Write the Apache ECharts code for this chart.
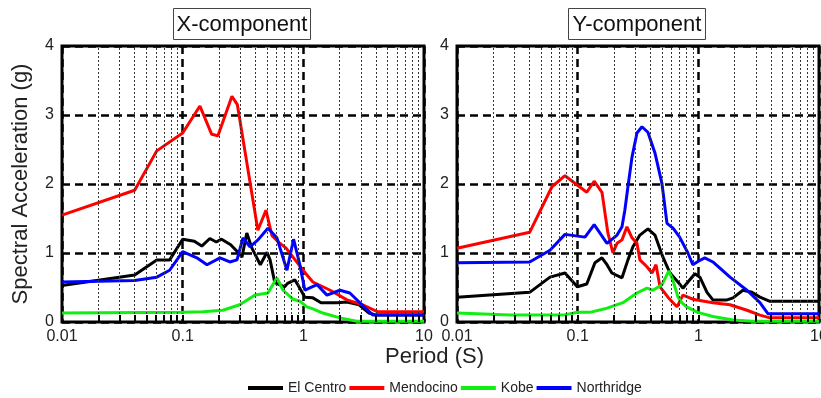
<!DOCTYPE html>
<html>
<head>
<meta charset="utf-8">
<script src="https://cdn.jsdelivr.net/npm/echarts@6/dist/echarts.min.js"></script>
<style>
  html, body { margin: 0; padding: 0; background: #fff; }
  #chart { width: 821px; height: 398px; }
</style>
</head>
<body>
<div id="chart"></div>
<script>
// period (s) / spectral acceleration (g) pairs
var xElCentro = [[0.01,0.53],[0.04,0.68],[0.061,0.9],[0.078,0.9],[0.1,1.2],[0.125,1.17],[0.144,1.1],[0.168,1.21],[0.19,1.16],[0.21,1.2],[0.25,1.12],[0.287,1.01],[0.31,0.94],[0.34,1.29],[0.375,1.07],[0.44,0.83],[0.5,1.01],[0.53,0.9],[0.58,0.57],[0.7,0.51],[0.74,0.56],[0.85,0.61],[0.9,0.54],[1.03,0.36],[1.2,0.35],[1.4,0.28],[1.9,0.28],[2.3,0.29],[2.9,0.25],[3.5,0.13],[4.0,0.1],[10,0.1]];
var xMendocino = [[0.01,1.55],[0.04,1.91],[0.061,2.48],[0.1,2.74],[0.139,3.13],[0.174,2.72],[0.196,2.7],[0.256,3.27],[0.284,3.15],[0.42,1.33],[0.49,1.62],[0.55,1.25],[0.63,1.15],[0.72,1.07],[0.9,0.85],[1.05,0.7],[1.2,0.58],[1.67,0.46],[2.3,0.32],[3.1,0.25],[4.1,0.15],[10,0.15]];
var xKobe = [[0.01,0.13],[0.1,0.14],[0.147,0.15],[0.215,0.17],[0.297,0.25],[0.398,0.39],[0.509,0.42],[0.604,0.64],[0.68,0.46],[0.82,0.33],[0.94,0.3],[1.07,0.22],[1.2,0.19],[1.45,0.13],[2.01,0.06],[2.77,0.01],[10,0.01]];
var xNorthridge = [[0.01,0.58],[0.04,0.6],[0.061,0.65],[0.078,0.75],[0.1,1.02],[0.131,0.93],[0.159,0.83],[0.204,0.93],[0.246,0.87],[0.282,0.9],[0.316,1.22],[0.361,1.09],[0.421,1.19],[0.509,1.36],[0.604,1.22],[0.731,0.75],[0.83,1.2],[0.93,0.85],[1.03,0.46],[1.12,0.49],[1.3,0.54],[1.57,0.39],[2.01,0.46],[2.43,0.42],[3.06,0.25],[3.78,0.1],[10,0.1]];

var yElCentro = [[0.01,0.36],[0.04,0.43],[0.059,0.65],[0.0785,0.71],[0.0994,0.51],[0.119,0.55],[0.139,0.86],[0.159,0.93],[0.175,0.83],[0.192,0.71],[0.233,0.64],[0.261,0.9],[0.287,1.09],[0.328,1.26],[0.382,1.35],[0.437,1.26],[0.509,0.94],[0.582,0.71],[0.678,0.58],[0.745,0.49],[0.82,0.58],[0.937,0.7],[1.03,0.65],[1.18,0.43],[1.32,0.32],[1.73,0.32],[1.94,0.35],[2.34,0.46],[2.78,0.43],[3.24,0.36],[3.92,0.3],[10,0.3]];
var yMendocino = [[0.01,1.07],[0.04,1.3],[0.0612,1.96],[0.0785,2.12],[0.119,1.88],[0.137,2.04],[0.159,1.88],[0.178,1.29],[0.196,1.0],[0.212,1.14],[0.233,1.19],[0.256,1.38],[0.282,1.22],[0.31,1.14],[0.328,0.9],[0.375,0.8],[0.413,0.71],[0.446,0.83],[0.481,0.51],[0.56,0.36],[0.617,0.28],[0.666,0.22],[0.745,0.39],[0.9,0.33],[0.973,0.32],[1.32,0.28],[1.83,0.25],[2.53,0.17],[3.24,0.1],[3.92,0.06],[10,0.06]];
var yKobe = [[0.01,0.13],[0.0275,0.1],[0.0755,0.1],[0.1,0.14],[0.126,0.14],[0.175,0.2],[0.237,0.28],[0.31,0.42],[0.375,0.49],[0.421,0.46],[0.499,0.54],[0.57,0.74],[0.617,0.6],[0.678,0.36],[0.73,0.28],[0.8,0.22],[0.99,0.14],[1.32,0.08],[1.94,0.03],[2.8,0.01],[10,0.01]];
var yNorthridge = [[0.01,0.86],[0.04,0.87],[0.059,1.04],[0.0785,1.27],[0.115,1.23],[0.137,1.41],[0.175,1.14],[0.212,1.26],[0.233,1.38],[0.246,1.62],[0.261,1.96],[0.282,2.39],[0.31,2.74],[0.341,2.83],[0.382,2.75],[0.437,2.45],[0.499,2.01],[0.55,1.43],[0.617,1.36],[0.7,1.23],[0.82,1.0],[0.9,0.83],[1.0,0.88],[1.13,0.93],[1.32,0.87],[1.83,0.65],[2.53,0.46],[3.24,0.28],[3.77,0.12],[10,0.12]];

var names = ['El Centro', 'Mendocino', 'Kobe', 'Northridge'];
var colors = ['#000000', '#ff0000', '#11ee11', '#0000ff'];
var panelTitles = ['X-component', 'Y-component'];
var minorPos = [0.02,0.03,0.04,0.05,0.06,0.07,0.08,0.09,0.2,0.3,0.4,0.5,0.6,0.7,0.8,0.9,2,3,4,5,6,7,8,9];
var tickPos = minorPos.concat([0.1, 1]);

var font = 'Arial, "Liberation Sans", sans-serif';
var chart = echarts.init(document.getElementById('chart'), null, {renderer: 'canvas'});

var panels = [
  [xElCentro, xMendocino, xKobe, xNorthridge],
  [yElCentro, yMendocino, yKobe, yNorthridge]
];
var gridLefts = [62, 457];

var series = [];
panels.forEach(function (sets, p) {
  // minor dotted grid lines (2..9 in each decade)
  series.push({
    type: 'line', xAxisIndex: p, yAxisIndex: p, data: [], silent: true, z: 1,
    markLine: {
      symbol: ['none', 'none'], silent: true, animation: false,
      label: {show: false},
      lineStyle: {color: '#333', width: 1, type: [2, 2]},
      emphasis: {disabled: true},
      data: minorPos.map(function (v) { return {xAxis: v}; })
    }
  });
  // short inward ticks on the bottom edge
  series.push({
    type: 'line', xAxisIndex: p, yAxisIndex: p, data: [], silent: true, z: 4,
    markLine: {
      symbol: ['none', 'none'], silent: true, animation: false,
      label: {show: false},
      lineStyle: {color: '#000', width: 2, type: 'solid'},
      emphasis: {disabled: true},
      data: tickPos.map(function (v) { return [{coord: [v, 0]}, {coord: [v, 0.1]}]; })
    }
  });
  sets.forEach(function (d, i) {
    series.push({
      name: names[i], type: 'line', xAxisIndex: p, yAxisIndex: p,
      data: d, showSymbol: false, symbol: 'none', z: 3,
      lineStyle: {color: colors[i], width: 3},
      itemStyle: {color: colors[i]}
    });
  });
});

var option = {
  animation: false,
  legend: {
    data: names, top: 376, left: 243, itemGap: 3,
    icon: 'rect', itemWidth: 35, itemHeight: 4,
    textStyle: {fontFamily: font, fontSize: 14, color: '#222'}
  },
  grid: gridLefts.map(function (l) {
    return {left: l, top: 46, width: 362, height: 276, outerBoundsMode: 'none',
      show: true, borderColor: '#000', borderWidth: 3, backgroundColor: '#fff'};
  }),
  xAxis: [0, 1].map(function (p) {
    return {
      type: 'log', logBase: 10, min: 0.01, max: 10, gridIndex: p,
      axisLine: {show: false},
      axisTick: {show: false},
      axisLabel: {fontFamily: font, fontSize: 16, color: '#222', margin: 7,
        formatter: function (v) { return String(+v.toPrecision(3)); }},
      splitLine: {show: true, lineStyle: {color: '#000', width: 2.5, type: [8, 5]}}
    };
  }),
  yAxis: [0, 1].map(function (p) {
    return {
      type: 'value', min: 0, max: 4, interval: 1, gridIndex: p,
      name: p === 0 ? 'Spectral Acceleration (g)' : '',
      nameLocation: 'middle', nameGap: 30,
      nameTextStyle: {fontFamily: font, fontSize: 22, color: '#222'},
      axisLine: {show: false},
      axisTick: {show: false},
      axisLabel: {fontFamily: font, fontSize: 16, color: '#222', margin: 8},
      splitLine: {show: true, lineStyle: {color: '#000', width: 2.5, type: [8, 5]}}
    };
  }),
  graphic: [
    {
      type: 'group', left: 173, top: 8,
      children: [
        {type: 'rect', shape: {x: 0, y: 0, width: 137, height: 31}, style: {fill: '#fff', stroke: '#444', lineWidth: 1}},
        {type: 'text', x: 68.5, y: 16, style: {text: panelTitles[0], font: '22px ' + font, fill: '#111', textAlign: 'center', textVerticalAlign: 'middle', align: 'center', verticalAlign: 'middle'}}
      ]
    },
    {
      type: 'group', left: 568, top: 8,
      children: [
        {type: 'rect', shape: {x: 0, y: 0, width: 137, height: 31}, style: {fill: '#fff', stroke: '#444', lineWidth: 1}},
        {type: 'text', x: 68.5, y: 16, style: {text: panelTitles[1], font: '22px ' + font, fill: '#111', textAlign: 'center', textVerticalAlign: 'middle', align: 'center', verticalAlign: 'middle'}}
      ]
    },
    {
      type: 'text', left: 385, top: 346,
      style: {text: 'Period (S)', font: '22px ' + font, fill: '#222'}
    }
  ],
  series: series
};

chart.setOption(option);
</script>
</body>
</html>
